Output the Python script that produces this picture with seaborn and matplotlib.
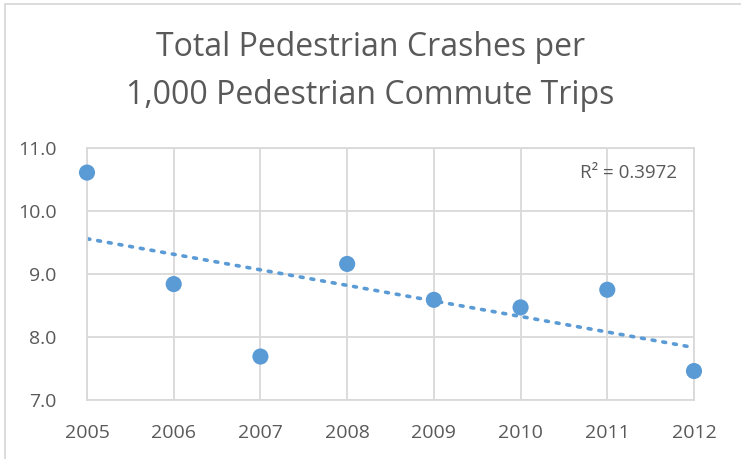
import numpy as np
import pandas as pd
import matplotlib
matplotlib.use("Agg")
import matplotlib.pyplot as plt
import seaborn as sns
from matplotlib.lines import Line2D

# Data
years = [2005, 2006, 2007, 2008, 2009, 2010, 2011, 2012]
crashes_per_1000 = [10.61, 8.84, 7.69, 9.16, 8.59, 8.47, 8.75, 7.46]
r_squared_label = "R² = 0.3972"
title = "Total Pedestrian Crashes per\n1,000 Pedestrian Commute Trips"

df = pd.DataFrame({"Year": years, "Rate": crashes_per_1000})

sns.set_theme(style="white")
plt.rcParams["font.family"] = ["Open Sans", "DejaVu Sans"]

blue = "#5b9bd5"
grey_text = "#595959"
grid = "#d9d9d9"

fig = plt.figure(figsize=(7.41, 4.59), dpi=100)
ax = fig.add_axes([87 / 741, 1 - 400 / 459, (694 - 87) / 741, (400 - 148) / 459])

sns.regplot(data=df, x="Year", y="Rate", ax=ax, ci=None, color=blue,
            scatter_kws={"s": 135, "alpha": 1, "edgecolor": "none", "zorder": 3, "clip_on": False},
            line_kws={"linestyle": (0, (0.8, 2.2)), "linewidth": 2.6,
                      "dash_capstyle": "round", "zorder": 2})

ax.set_xlim(2005, 2012)
ax.set_ylim(7, 11)
ax.set_xticks(years)
ax.set_yticks([7, 8, 9, 10, 11])
ax.set_yticklabels([f"{v:.1f}" for v in [7, 8, 9, 10, 11]])
ax.set_xlabel("")
ax.set_ylabel("")
ax.grid(True, color=grid, linewidth=1.3)
ax.set_axisbelow(True)
for s in ax.spines.values():
    s.set_color(grid)
    s.set_linewidth(1.3)
ax.tick_params(axis="both", length=0, labelsize=14, colors=grey_text)
ax.tick_params(axis="x", pad=17)
ax.tick_params(axis="y", pad=22)

ax.text(2011.8, 10.6, r_squared_label, ha="right", va="center",
        fontsize=13.5, color=grey_text)

fig.text(0.5, 1 - 72 / 459, title, ha="center", va="center",
         fontsize=23, color=grey_text, linespacing=1.6)

# chart-area border (only top and left visible in the crop)
fig.add_artist(Line2D([5 / 741, 5 / 741], [0, 1 - 4 / 459], transform=fig.transFigure,
                      color=grid, linewidth=1.3))
fig.add_artist(Line2D([5 / 741, 1], [1 - 4 / 459, 1 - 4 / 459], transform=fig.transFigure,
                      color=grid, linewidth=1.3))

fig.savefig("out.png", dpi=100)
